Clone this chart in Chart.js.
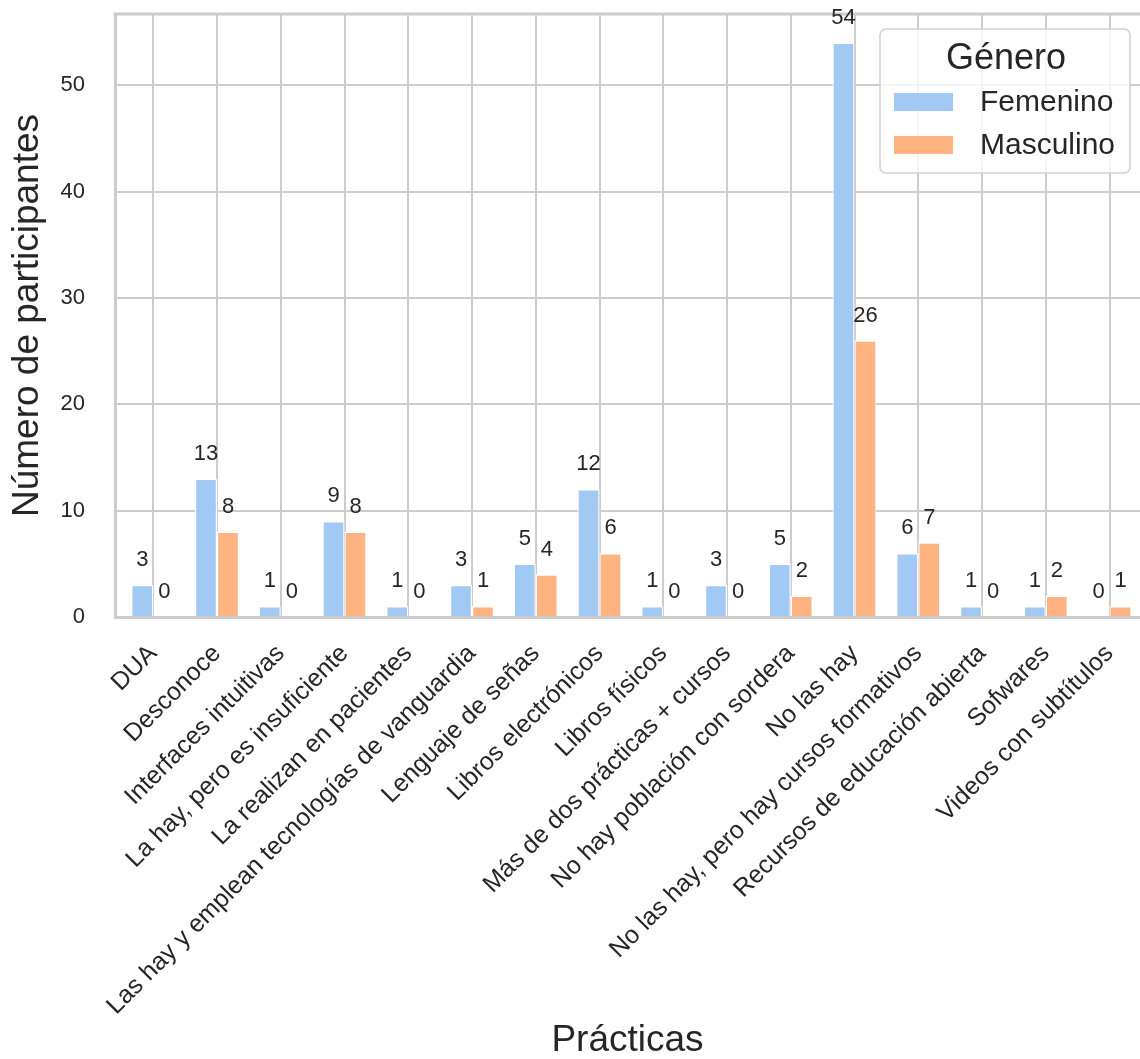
<!DOCTYPE html>
<html lang="es">
<head>
<meta charset="utf-8">
<title>Prácticas por género</title>
<script src="https://cdn.jsdelivr.net/npm/chart.js@4.4.1/dist/chart.umd.min.js"></script>
<style>
    html, body { margin: 0; padding: 0; background: #ffffff; overflow: hidden; }
    #wrap { position: relative; width: 1140px; height: 1059px; }
</style>
</head>
<body>
<div id="wrap"><canvas id="practicas-chart"></canvas></div>
<script>
// --- Datos ---
const categorias = [
    'DUA',
    'Desconoce',
    'Interfaces intuitivas',
    'La hay, pero es insuficiente',
    'La realizan en pacientes',
    'Las hay y emplean tecnologías de vanguardia',
    'Lenguaje de señas',
    'Libros electrónicos',
    'Libros físicos',
    'Más de dos prácticas + cursos',
    'No hay población con sordera',
    'No las hay',
    'No las hay, pero hay cursos formativos',
    'Recursos de educación abierta',
    'Sofwares',
    'Videos con subtítulos'
];
const femenino = [3, 13, 1, 9, 1, 3, 5, 12, 1, 3, 5, 54, 6, 1, 1, 0];
const masculino = [0, 8, 0, 8, 0, 1, 4, 6, 0, 0, 2, 26, 7, 0, 2, 1];
const yTicks = [0, 10, 20, 30, 40, 50];

// --- Estilo ---
const colorFemenino = '#a1c9f4';
const colorMasculino = '#ffb482';
const textColor = '#262626';
const gridColor = '#cccccc';
const fontFamily = '"Liberation Sans", Arial, Helvetica, sans-serif';

const chartCanvas = document.getElementById('practicas-chart');

/**
 * Etiquetas con el valor encima de cada barra (como bar_label).
 */
const etiquetasValores = {
    id: 'etiquetasValores',
    afterDatasetsDraw(chart) {
        const ctx = chart.ctx;
        ctx.save();
        ctx.font = `22px ${fontFamily}`;
        ctx.textAlign = 'center';
        ctx.textBaseline = 'middle';
        ctx.fillStyle = textColor;
        chart.data.datasets.forEach((dataset, i) => {
            const meta = chart.getDatasetMeta(i);
            meta.data.forEach((bar, j) => {
                ctx.fillText(String(dataset.data[j].y), bar.x, bar.y - 25);
            });
        });
        ctx.restore();
    }
};

/**
 * Borde superior del área del gráfico (spine de arriba).
 */
const bordeSuperior = {
    id: 'bordeSuperior',
    beforeDatasetsDraw(chart) {
        const { ctx, chartArea } = chart;
        ctx.save();
        ctx.strokeStyle = gridColor;
        ctx.lineWidth = 3;
        ctx.beginPath();
        ctx.moveTo(chartArea.left - 1.5, chartArea.top);
        ctx.lineTo(chartArea.right, chartArea.top);
        ctx.stroke();
        ctx.restore();
    }
};

/**
 * Leyenda dentro del gráfico, arriba a la derecha, con título "Género".
 */
const leyendaGenero = {
    id: 'leyendaGenero',
    afterDraw(chart) {
        const ctx = chart.ctx;
        const x = 880, y = 29, w = 250, h = 144, r = 6;
        ctx.save();
        ctx.fillStyle = 'rgba(255, 255, 255, 0.8)';
        ctx.strokeStyle = '#d0d0d0';
        ctx.lineWidth = 1.5;
        ctx.beginPath();
        ctx.roundRect(x, y, w, h, r);
        ctx.fill();
        ctx.stroke();

        ctx.fillStyle = textColor;
        ctx.font = `36px ${fontFamily}`;
        ctx.textAlign = 'center';
        ctx.textBaseline = 'middle';
        ctx.fillText('Género', x + 126, y + 30);

        ctx.font = `30px ${fontFamily}`;
        ctx.textAlign = 'left';
        chart.data.datasets.forEach((dataset, i) => {
            const fy = y + 64 + i * 43;
            ctx.fillStyle = dataset.backgroundColor;
            ctx.fillRect(x + 14, fy, 59, 18);
            ctx.fillStyle = textColor;
            ctx.fillText(dataset.label, x + 100, fy + 10);
        });
        ctx.restore();
    }
};

new Chart(chartCanvas, {
    type: 'bar',
    data: {
        datasets: [
            {
                label: 'Femenino',
                data: femenino.map((v, i) => ({ x: i, y: v })),
                backgroundColor: colorFemenino,
                borderColor: '#ffffff',
                borderWidth: 1.2
            },
            {
                label: 'Masculino',
                data: masculino.map((v, i) => ({ x: i, y: v })),
                backgroundColor: colorMasculino,
                borderColor: '#ffffff',
                borderWidth: 1.2
            }
        ]
    },
    options: {
        responsive: true,
        maintainAspectRatio: false,
        animation: false,
        categoryPercentage: 0.69,
        barPercentage: 1.0,
        layout: { padding: { top: 14, right: 0, bottom: 0, left: 0 } },
        plugins: {
            legend: { display: false },
            tooltip: { enabled: false }
        },
        scales: {
            x: {
                type: 'linear',
                offset: false,
                min: -0.6,
                max: 15.478,
                afterBuildTicks: (scale) => {
                    scale.ticks = categorias.map((_, i) => ({ value: i }));
                },
                afterFit: (scale) => {
                    scale.height = 442;
                    scale.paddingLeft = 0;
                    scale.paddingRight = 0;
                },
                ticks: {
                    autoSkip: false,
                    minRotation: 45,
                    maxRotation: 45,
                    padding: 22,
                    color: textColor,
                    font: { family: fontFamily, size: 25 },
                    callback: (value) => categorias[value]
                },
                grid: { color: gridColor, lineWidth: 2, drawTicks: false, offset: false },
                border: { display: true, color: gridColor, width: 3 },
                title: {
                    display: true,
                    text: 'Prácticas',
                    color: textColor,
                    font: { family: fontFamily, size: 37, lineHeight: 1 },
                    padding: { top: 0, bottom: 0 }
                }
            },
            y: {
                min: 0,
                max: 56.7,
                afterBuildTicks: (scale) => {
                    scale.ticks = yTicks.map(v => ({ value: v }));
                },
                afterFit: (scale) => {
                    scale.width = 115;
                    scale.paddingTop = 0;
                    scale.paddingBottom = 0;
                },
                ticks: {
                    padding: 30,
                    color: textColor,
                    font: { family: fontFamily, size: 22 }
                },
                grid: { color: gridColor, lineWidth: 2, drawTicks: false },
                border: { display: true, color: gridColor, width: 3 },
                title: {
                    display: true,
                    text: 'Número de participantes',
                    color: textColor,
                    font: { family: fontFamily, size: 37 },
                    padding: { top: 6, bottom: 0 }
                }
            }
        }
    },
    plugins: [bordeSuperior, etiquetasValores, leyendaGenero]
});
</script>
</body>
</html>
